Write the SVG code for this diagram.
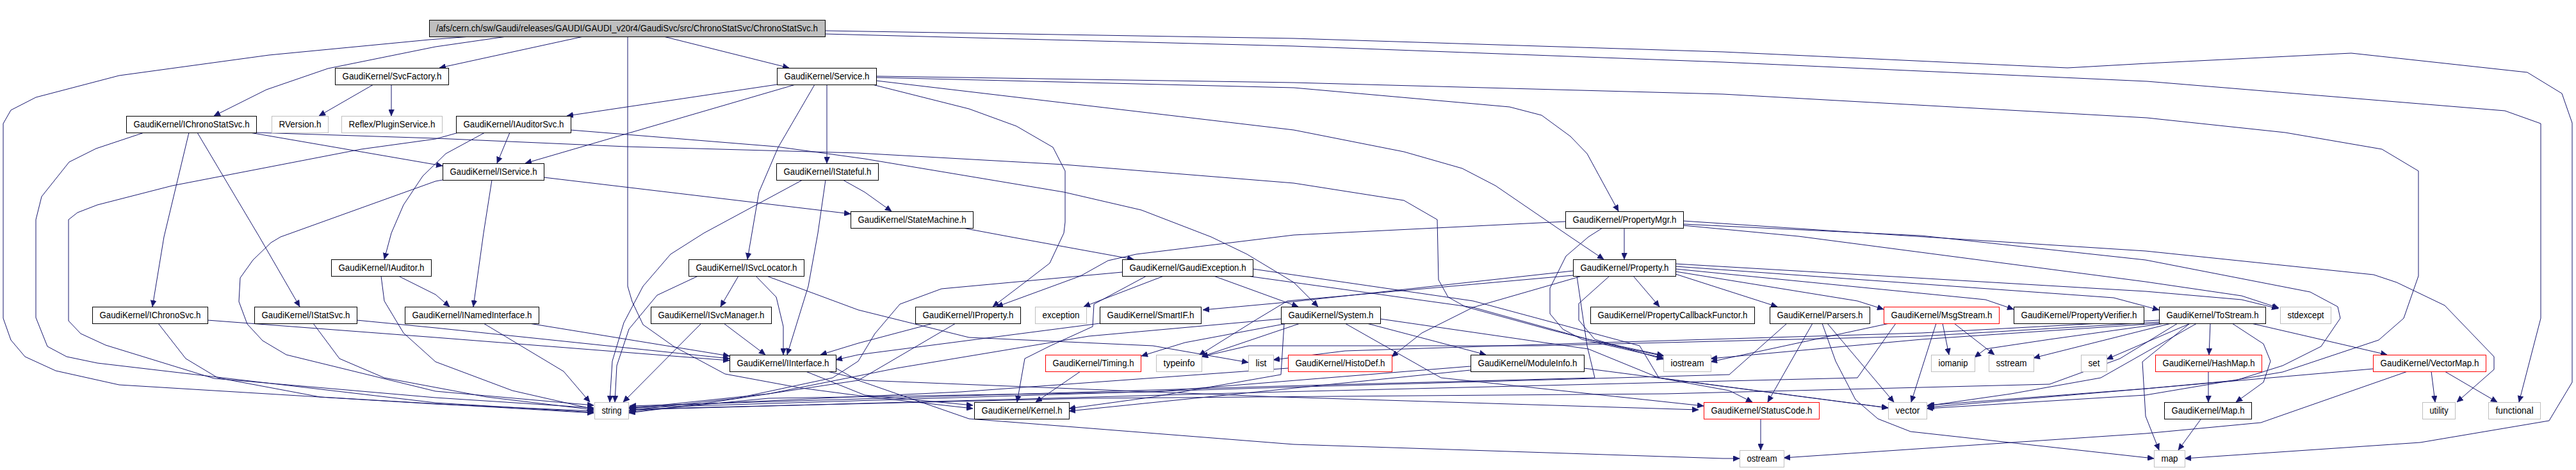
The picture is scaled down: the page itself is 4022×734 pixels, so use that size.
<svg xmlns="http://www.w3.org/2000/svg" width="4022" height="734" viewBox="0 0 4022 734">
<style>
.n rect{fill:#fff;stroke:#000;stroke-width:1}
.g rect{fill:#fff;stroke:#bfbfbf;stroke-width:1}
.r rect{fill:#fff;stroke:#f00;stroke-width:1}
.t rect{fill:#bfbfbf;stroke:#000;stroke-width:1}
text{font-family:"Liberation Sans",Arial,sans-serif;font-size:14px;text-anchor:middle;fill:#000}
#edges path{fill:none;stroke:#191970;stroke-width:1;marker-end:url(#a)}
</style>
<defs>
<marker id="a" viewBox="0 0 10 9" refX="10" refY="4.5" markerWidth="10" markerHeight="9" markerUnits="userSpaceOnUse" orient="auto"><path d="M0,0 L10,4.5 L0,9 z" fill="#191970" stroke="#191970" stroke-width="0.5"/></marker>
</defs>
<rect width="4022" height="734" fill="#fff"/>
<g id="edges">
<path d="M735,57 L670,62 L420,86 L186,118 L56,152 L17,172 L5,193 L5,497 L17,531 L39,557 L87,579 L186,601 L680,631 L927,642"/>
<path d="M791,57 L680,73 L512,107 L416,140 L334,181"/>
<path d="M911,57 L686,106"/>
<path d="M980,57 L980,447 L987,471 L1004,507 L1052,541 L1132,584 L1251,606 L1350,619 L1519,638"/>
<path d="M1036,57 L1232,106"/>
<path d="M1288,53 L2020,72 L2690,97 L3352,127 L3911,173 L3967,193 L3967,497 L3933,628"/>
<path d="M1288,48 L2020,60 L2690,81 L3228,106 L3352,99 L3671,83 L3946,113 L4000,146 L4016,192 L4016,597 L3980,657 L3779,691 L3411,716"/>
<path d="M583,132 L498,181"/>
<path d="M611,132 L611,181"/>
<path d="M225,207 L150,232 L108,253 L65,307 L56,343 L56,496 L74,541 L104,557 L152,567 L680,629 L927,644"/>
<path d="M295,207 L256,370 L238,479"/>
<path d="M308,207 L405,370 L468,479"/>
<path d="M390,207 L691,259"/>
<path d="M400,207 L680,216 L978,229 L1340,239 L1661,257 L2020,286 L2192,313 L2244,343 L2246,437 L2261,464 L2288,479 L2420,515 L2520,540 L2597,556"/>
<path d="M716,207 L680,217 L564,233 L269,290 L152,320 L121,332 L107,343 L107,501 L126,521 L165,539 L334,591 L680,621 L927,637"/>
<path d="M796,207 L776,255"/>
<path d="M757,207 L696,240 L660,275 L630,320 L611,364 L600,405"/>
<path d="M891,203 L1212,229 L1350,248 L1661,300 L1782,328 L1891,370 L1947,397 L2020,441 L2058,479"/>
<path d="M1213,132 L885,181"/>
<path d="M1242,132 L820,255"/>
<path d="M1272,132 L1215,230 L1185,300 L1173,370 L1167,405"/>
<path d="M1291,132 L1291,255"/>
<path d="M1362,132 L1513,170 L1587,197 L1644,230 L1663,267 L1663,347 L1661,364 L1639,411 L1600,441 L1550,479"/>
<path d="M1368,126 L2020,203 L2192,237 L2283,263 L2335,290 L2452,370 L2504,405"/>
<path d="M1368,121 L2020,137 L2357,167 L2407,180 L2452,213 L2478,240 L2527,330"/>
<path d="M1368,119 L2020,129 L2690,147 L3352,184 L3568,207 L3719,233 L3776,267 L3776,431 L3753,497 L3714,531 L3564,581 L3350,617 L3008,638"/>
<path d="M691,281 L680,283 L438,370 L423,379 L395,406 L375,434 L373,471 L386,506 L410,532 L447,554 L680,611 L927,633"/>
<path d="M768,281 L755,364 L739,479"/>
<path d="M849,277 L1328,334"/>
<path d="M1316,281 L1350,300 L1392,330"/>
<path d="M1253,281 L1099,364 L1047,397 L1004,447 L974,504 L956,564 L952,628"/>
<path d="M1289,281 L1277,364 L1262,447 L1229,554"/>
<path d="M1503,356 L1578,370 L1770,405"/>
<path d="M2444,346 L2020,367 L1774,397 L1730,407 L1687,431 L1556,479"/>
<path d="M2536,356 L2536,405"/>
<path d="M2502,356 L2480,370 L2445,400 L2420,450 L2420,490 L2440,514 L2470,530 L2597,559"/>
<path d="M2628,345 L2990,369 L3350,392 L3706,429 L3742,441 L3817,477 L3894,557 L3894,577 L3836,628"/>
<path d="M2628,350 L3000,368 L3350,406 L3607,456 L3650,479 L3654,497 L3624,541 L3564,571 L3491,594 L3350,607 L3010,633"/>
<path d="M2628,352 L2808,369 L3350,440 L3500,462 L3558,481"/>
<path d="M1153,431 L1125,479"/>
<path d="M1180,431 L1212,464 L1223,510 L1223,554"/>
<path d="M1090,431 L1026,461 L982,514 L963,571 L960,628"/>
<path d="M1197,431 L1340,484 L1513,527 L1800,540 L1949,566"/>
<path d="M1817,431 L1692,479"/>
<path d="M1752,425 L1470,451 L1405,475 L1366,521 L1340,564 L1300,590 L1150,622 L982,641"/>
<path d="M1895,431 L2027,479"/>
<path d="M1790,431 L1708,475 L1706,510 L1640,540 L1600,560 L1588,628"/>
<path d="M1956,420 L2300,470 L2560,540 L2590,590 L2700,610 L2736,628"/>
<path d="M1947,431 L2300,480 L2480,530 L2597,555"/>
<path d="M595,431 L600,470 L630,520 L680,565 L800,610 L927,639"/>
<path d="M622,431 L680,460 L702,479"/>
<path d="M247,505 L290,560 L340,590 L500,620 L927,645"/>
<path d="M324,500 L680,527 L1139,563"/>
<path d="M489,505 L530,560 L600,590 L760,620 L927,640"/>
<path d="M557,500 L680,512 L1139,560"/>
<path d="M755,505 L880,580 L921,628"/>
<path d="M826,505 L1139,556"/>
<path d="M1095,505 L973,628"/>
<path d="M1130,505 L1195,554"/>
<path d="M1457,505 L1340,536 L1281,554"/>
<path d="M1492,505 L1340,594 L1100,630 L982,645"/>
<path d="M1717,505 L1340,554 L1305,562"/>
<path d="M1258,580 L1350,617 L1519,633"/>
<path d="M1292,580 L1350,594 L2000,620 L2652,640"/>
<path d="M1305,575 L1340,594 L1513,654 L2020,694 L2690,716 L2716,716"/>
<path d="M2010,505 L1850,535 L1782,556"/>
<path d="M2134,505 L2320,554"/>
<path d="M2030,505 L1876,557"/>
<path d="M2000,498 L1700,525 L1400,575 L1200,615 L982,638"/>
<path d="M2005,505 L2000,585 L1800,620 L1669,638"/>
<path d="M2100,505 L2250,590 L2660,634"/>
<path d="M2155,498 L2480,545 L2590,590 L2948,637"/>
<path d="M1687,580 L1617,628"/>
<path d="M2296,572 L1800,612 L1200,622 L982,643"/>
<path d="M2296,578 L1669,642"/>
<path d="M2473,575 L2948,637"/>
<path d="M2011,575 L1500,612 L982,636"/>
<path d="M2616,428 L2775,479"/>
<path d="M2616,424 L2900,470 L2941,483"/>
<path d="M2616,420 L3100,468 L3144,483"/>
<path d="M2616,416 L3300,465 L3371,484"/>
<path d="M2616,412 L3350,455 L3500,468 L3557,482"/>
<path d="M2550,431 L2591,479"/>
<path d="M2456,423 L2020,471 L1878,484"/>
<path d="M2513,431 L2465,474 L2465,500 L2490,530 L2597,561"/>
<path d="M2456,430 L2010,470 L1960,500 L1872,555"/>
<path d="M2470,431 L2300,480 L2220,520 L2173,557"/>
<path d="M2462,431 L2478,540 L2490,590 L2000,603 L983,634"/>
<path d="M2830,505 L2760,628"/>
<path d="M2853,505 L2957,628"/>
<path d="M2845,505 L2866,564 L2897,624 L2932,654 L2983,674 L3363,716"/>
<path d="M2790,505 L2700,585 L2000,605 L983,637"/>
<path d="M3033,505 L3043,554"/>
<path d="M3051,505 L3114,554"/>
<path d="M3023,505 L2984,628"/>
<path d="M2950,505 L2671,565"/>
<path d="M2960,505 L2900,590 L2000,612 L983,640"/>
<path d="M3451,505 L3449,554"/>
<path d="M3485,505 L3534,537 L3545,564 L3534,597 L3491,628"/>
<path d="M3515,505 L3727,554"/>
<path d="M3380,505 L3200,530 L3100,545 L3083,558"/>
<path d="M3390,505 L3175,559"/>
<path d="M3420,505 L3289,561"/>
<path d="M3430,505 L3280,590 L3140,615 L3008,634"/>
<path d="M3400,505 L3310,560 L3200,600 L2600,615 L1700,622 L983,639"/>
<path d="M3371,500 L3000,520 L2500,535 L2100,548 L1988,562"/>
<path d="M3371,503 L3000,525 L2400,540 L1950,540 L1876,557"/>
<path d="M3371,505 L3000,530 L2671,560"/>
<path d="M3419,505 L3345,565 L3350,650 L3371,703"/>
<path d="M3448,580 L3448,628"/>
<path d="M3436,655 L3401,703"/>
<path d="M3796,580 L3802,628"/>
<path d="M3817,580 L3899,628"/>
<path d="M3705,576 L3350,607 L3010,636"/>
<path d="M3759,580 L3530,660 L3350,677 L2785,715"/>
<path d="M2749,655 L2749,703"/>
</g>
<g id="n_top" class="t"><rect x="670.5" y="31.5" width="618" height="26"/><text x="979" y="49" textLength="596" lengthAdjust="spacingAndGlyphs">/afs/cern.ch/sw/Gaudi/releases/GAUDI/GAUDI_v20r4/GaudiSvc/src/ChronoStatSvc/ChronoStatSvc.h</text></g>
<g id="n_SvcFactory" class="n"><rect x="523.5" y="106.5" width="177" height="26"/><text x="612" y="124" textLength="155" lengthAdjust="spacingAndGlyphs">GaudiKernel/SvcFactory.h</text></g>
<g id="n_Service" class="n"><rect x="1213.5" y="106.5" width="155" height="26"/><text x="1291" y="124" textLength="133" lengthAdjust="spacingAndGlyphs">GaudiKernel/Service.h</text></g>
<g id="n_IChronoStatSvc" class="n"><rect x="197.5" y="181.5" width="203" height="26"/><text x="299" y="199" textLength="181" lengthAdjust="spacingAndGlyphs">GaudiKernel/IChronoStatSvc.h</text></g>
<g id="n_RVersion" class="g"><rect x="424.5" y="181.5" width="88" height="26"/><text x="468.5" y="199" textLength="66" lengthAdjust="spacingAndGlyphs">RVersion.h</text></g>
<g id="n_PluginService" class="g"><rect x="533.5" y="181.5" width="157" height="26"/><text x="612" y="199" textLength="135" lengthAdjust="spacingAndGlyphs">Reflex/PluginService.h</text></g>
<g id="n_IAuditorSvc" class="n"><rect x="712.5" y="181.5" width="179" height="26"/><text x="802" y="199" textLength="157" lengthAdjust="spacingAndGlyphs">GaudiKernel/IAuditorSvc.h</text></g>
<g id="n_IService" class="n"><rect x="691.5" y="255.5" width="158" height="26"/><text x="770.5" y="273" textLength="136" lengthAdjust="spacingAndGlyphs">GaudiKernel/IService.h</text></g>
<g id="n_IStateful" class="n"><rect x="1212.5" y="255.5" width="159" height="26"/><text x="1292" y="273" textLength="137" lengthAdjust="spacingAndGlyphs">GaudiKernel/IStateful.h</text></g>
<g id="n_StateMachine" class="n"><rect x="1328.5" y="330.5" width="191" height="26"/><text x="1424" y="348" textLength="169" lengthAdjust="spacingAndGlyphs">GaudiKernel/StateMachine.h</text></g>
<g id="n_PropertyMgr" class="n"><rect x="2444.5" y="330.5" width="184" height="26"/><text x="2536.5" y="348" textLength="162" lengthAdjust="spacingAndGlyphs">GaudiKernel/PropertyMgr.h</text></g>
<g id="n_IAuditor" class="n"><rect x="517.5" y="405.5" width="156" height="26"/><text x="595.5" y="423" textLength="134" lengthAdjust="spacingAndGlyphs">GaudiKernel/IAuditor.h</text></g>
<g id="n_ISvcLocator" class="n"><rect x="1075.5" y="405.5" width="180" height="26"/><text x="1165.5" y="423" textLength="158" lengthAdjust="spacingAndGlyphs">GaudiKernel/ISvcLocator.h</text></g>
<g id="n_GaudiException" class="n"><rect x="1752.5" y="405.5" width="204" height="26"/><text x="1854.5" y="423" textLength="182" lengthAdjust="spacingAndGlyphs">GaudiKernel/GaudiException.h</text></g>
<g id="n_Property" class="n"><rect x="2456.5" y="405.5" width="160" height="26"/><text x="2536.5" y="423" textLength="138" lengthAdjust="spacingAndGlyphs">GaudiKernel/Property.h</text></g>
<g id="n_IChronoSvc" class="n"><rect x="144.5" y="479.5" width="180" height="26"/><text x="234.5" y="497" textLength="158" lengthAdjust="spacingAndGlyphs">GaudiKernel/IChronoSvc.h</text></g>
<g id="n_IStatSvc" class="n"><rect x="397.5" y="479.5" width="160" height="26"/><text x="477.5" y="497" textLength="138" lengthAdjust="spacingAndGlyphs">GaudiKernel/IStatSvc.h</text></g>
<g id="n_INamedInterface" class="n"><rect x="632.5" y="479.5" width="209" height="26"/><text x="737" y="497" textLength="187" lengthAdjust="spacingAndGlyphs">GaudiKernel/INamedInterface.h</text></g>
<g id="n_ISvcManager" class="n"><rect x="1016.5" y="479.5" width="188" height="26"/><text x="1110.5" y="497" textLength="166" lengthAdjust="spacingAndGlyphs">GaudiKernel/ISvcManager.h</text></g>
<g id="n_IProperty" class="n"><rect x="1429.5" y="479.5" width="164" height="26"/><text x="1511.5" y="497" textLength="142" lengthAdjust="spacingAndGlyphs">GaudiKernel/IProperty.h</text></g>
<g id="n_exception" class="g"><rect x="1616.5" y="479.5" width="80" height="26"/><text x="1656.5" y="497" textLength="58" lengthAdjust="spacingAndGlyphs">exception</text></g>
<g id="n_SmartIF" class="n"><rect x="1717.5" y="479.5" width="158" height="26"/><text x="1796.5" y="497" textLength="136" lengthAdjust="spacingAndGlyphs">GaudiKernel/SmartIF.h</text></g>
<g id="n_System" class="n"><rect x="2000.5" y="479.5" width="155" height="26"/><text x="2078" y="497" textLength="133" lengthAdjust="spacingAndGlyphs">GaudiKernel/System.h</text></g>
<g id="n_PropertyCallbackFunctor" class="n"><rect x="2483.5" y="479.5" width="256" height="26"/><text x="2611.5" y="497" textLength="234" lengthAdjust="spacingAndGlyphs">GaudiKernel/PropertyCallbackFunctor.h</text></g>
<g id="n_Parsers" class="n"><rect x="2763.5" y="479.5" width="156" height="26"/><text x="2841.5" y="497" textLength="134" lengthAdjust="spacingAndGlyphs">GaudiKernel/Parsers.h</text></g>
<g id="n_MsgStream" class="r"><rect x="2941.5" y="479.5" width="180" height="26"/><text x="3031.5" y="497" textLength="158" lengthAdjust="spacingAndGlyphs">GaudiKernel/MsgStream.h</text></g>
<g id="n_PropertyVerifier" class="n"><rect x="3144.5" y="479.5" width="203" height="26"/><text x="3246" y="497" textLength="181" lengthAdjust="spacingAndGlyphs">GaudiKernel/PropertyVerifier.h</text></g>
<g id="n_ToStream" class="n"><rect x="3371.5" y="479.5" width="166" height="26"/><text x="3454.5" y="497" textLength="144" lengthAdjust="spacingAndGlyphs">GaudiKernel/ToStream.h</text></g>
<g id="n_stdexcept" class="g"><rect x="3560.5" y="479.5" width="79" height="26"/><text x="3600" y="497" textLength="57" lengthAdjust="spacingAndGlyphs">stdexcept</text></g>
<g id="n_IInterface" class="n"><rect x="1139.5" y="554.5" width="166" height="26"/><text x="1222.5" y="572" textLength="144" lengthAdjust="spacingAndGlyphs">GaudiKernel/IInterface.h</text></g>
<g id="n_Timing" class="r"><rect x="1632.5" y="554.5" width="149" height="26"/><text x="1707" y="572" textLength="127" lengthAdjust="spacingAndGlyphs">GaudiKernel/Timing.h</text></g>
<g id="n_typeinfo" class="g"><rect x="1805.5" y="554.5" width="71" height="26"/><text x="1841" y="572" textLength="49" lengthAdjust="spacingAndGlyphs">typeinfo</text></g>
<g id="n_list" class="g"><rect x="1949.5" y="554.5" width="39" height="26"/><text x="1969" y="572" textLength="17" lengthAdjust="spacingAndGlyphs">list</text></g>
<g id="n_HistoDef" class="r"><rect x="2011.5" y="554.5" width="162" height="26"/><text x="2092.5" y="572" textLength="140" lengthAdjust="spacingAndGlyphs">GaudiKernel/HistoDef.h</text></g>
<g id="n_ModuleInfo" class="n"><rect x="2296.5" y="554.5" width="177" height="26"/><text x="2385" y="572" textLength="155" lengthAdjust="spacingAndGlyphs">GaudiKernel/ModuleInfo.h</text></g>
<g id="n_iostream" class="g"><rect x="2597.5" y="554.5" width="74" height="26"/><text x="2634.5" y="572" textLength="52" lengthAdjust="spacingAndGlyphs">iostream</text></g>
<g id="n_iomanip" class="g"><rect x="3015.5" y="554.5" width="68" height="26"/><text x="3049.5" y="572" textLength="46" lengthAdjust="spacingAndGlyphs">iomanip</text></g>
<g id="n_sstream" class="g"><rect x="3105.5" y="554.5" width="70" height="26"/><text x="3140.5" y="572" textLength="48" lengthAdjust="spacingAndGlyphs">sstream</text></g>
<g id="n_set" class="g"><rect x="3249.5" y="554.5" width="40" height="26"/><text x="3269.5" y="572" textLength="18" lengthAdjust="spacingAndGlyphs">set</text></g>
<g id="n_HashMap" class="r"><rect x="3365.5" y="554.5" width="166" height="26"/><text x="3448.5" y="572" textLength="144" lengthAdjust="spacingAndGlyphs">GaudiKernel/HashMap.h</text></g>
<g id="n_VectorMap" class="r"><rect x="3705.5" y="554.5" width="176" height="26"/><text x="3793.5" y="572" textLength="154" lengthAdjust="spacingAndGlyphs">GaudiKernel/VectorMap.h</text></g>
<g id="n_string" class="g"><rect x="928.5" y="628.5" width="53" height="26"/><text x="955" y="646" textLength="31" lengthAdjust="spacingAndGlyphs">string</text></g>
<g id="n_Kernel" class="n"><rect x="1521.5" y="628.5" width="148" height="26"/><text x="1595.5" y="646" textLength="126" lengthAdjust="spacingAndGlyphs">GaudiKernel/Kernel.h</text></g>
<g id="n_StatusCode" class="r"><rect x="2660.5" y="628.5" width="180" height="26"/><text x="2750.5" y="646" textLength="158" lengthAdjust="spacingAndGlyphs">GaudiKernel/StatusCode.h</text></g>
<g id="n_vector" class="g"><rect x="2948.5" y="628.5" width="60" height="26"/><text x="2978.5" y="646" textLength="38" lengthAdjust="spacingAndGlyphs">vector</text></g>
<g id="n_Map" class="n"><rect x="3379.5" y="628.5" width="136" height="26"/><text x="3447.5" y="646" textLength="114" lengthAdjust="spacingAndGlyphs">GaudiKernel/Map.h</text></g>
<g id="n_utility" class="g"><rect x="3782.5" y="628.5" width="51" height="26"/><text x="3808" y="646" textLength="29" lengthAdjust="spacingAndGlyphs">utility</text></g>
<g id="n_functional" class="g"><rect x="3885.5" y="628.5" width="81" height="26"/><text x="3926" y="646" textLength="59" lengthAdjust="spacingAndGlyphs">functional</text></g>
<g id="n_ostream" class="g"><rect x="2716.5" y="703.5" width="69" height="26"/><text x="2751" y="721" textLength="47" lengthAdjust="spacingAndGlyphs">ostream</text></g>
<g id="n_map" class="g"><rect x="3363.5" y="703.5" width="48" height="26"/><text x="3387.5" y="721" textLength="26" lengthAdjust="spacingAndGlyphs">map</text></g>
</svg>
